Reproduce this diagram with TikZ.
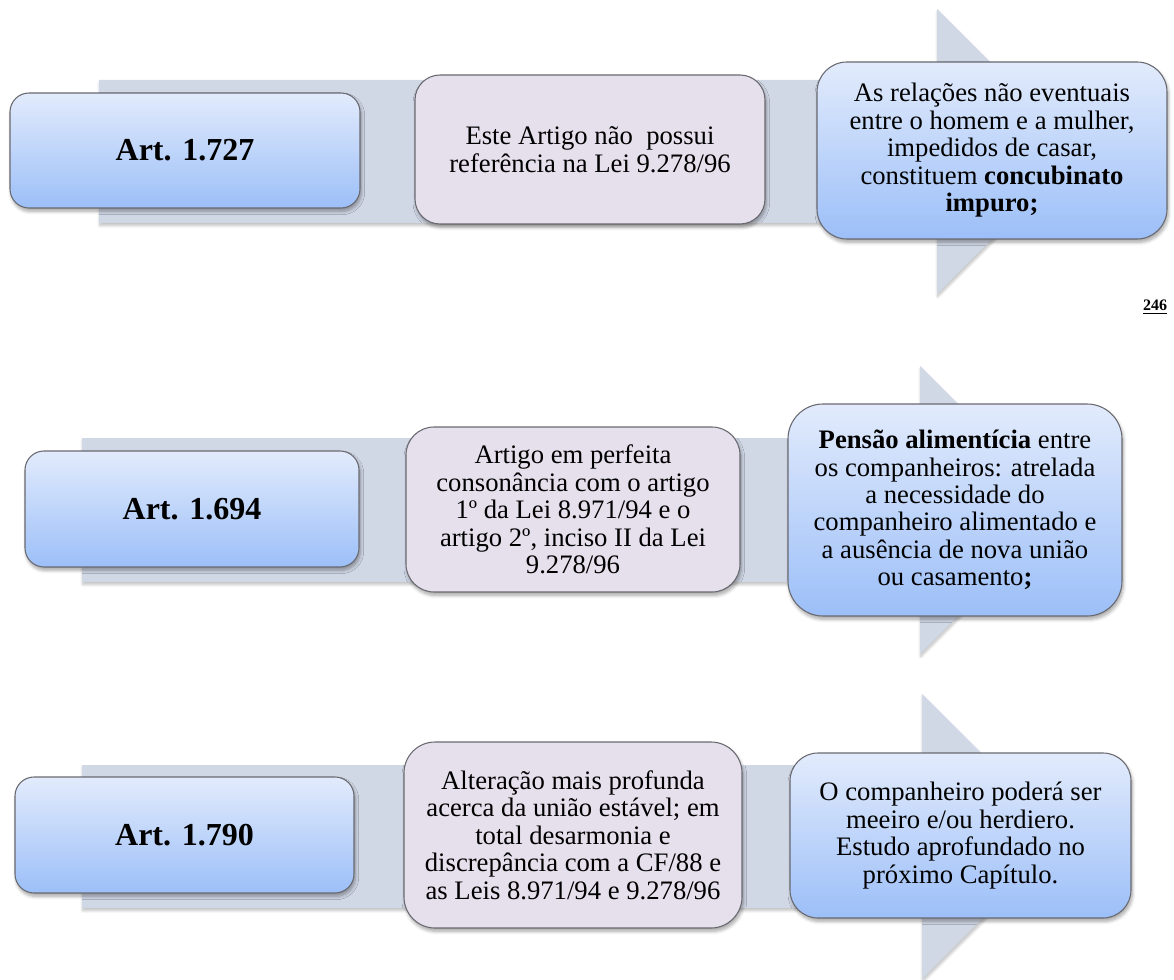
\documentclass[tikz,border=0pt]{standalone}
\usepackage{fontspec}
\setmainfont{Liberation Serif}
\usetikzlibrary{shadows.blur}

\definecolor{bandgray}{RGB}{208,215,229}
\definecolor{boxtop}{RGB}{226,235,252}
\definecolor{boxbot}{RGB}{156,191,248}
\definecolor{midfill}{RGB}{229,224,236}
\definecolor{edgegray}{RGB}{105,105,112}

\tikzset{
  band/.style={fill=bandgray,
    blur shadow={shadow xshift=0.5pt, shadow yshift=-2pt, shadow blur radius=2pt,
                 shadow blur steps=6, shadow opacity=25}},
  boxbase/.style={rectangle, draw=edgegray, line width=0.8pt, inner sep=0pt,
    align=center,
    blur shadow={shadow xshift=1pt, shadow yshift=-2.5pt, shadow blur radius=2.5pt,
                 shadow blur steps=6, shadow opacity=35}},
  dims/.style n args={3}{minimum width={#1*0.75pt}, minimum height={#2*0.75pt},
    rounded corners={#3*0.75pt}},
  artbox/.style={boxbase, top color=boxtop, bottom color=boxbot,
    font=\bfseries\fontsize{24}{28}\selectfont},
  notebox/.style={boxbase, fill=midfill, font=\fontsize{20}{20.6}\selectfont},
  infobox/.style={boxbase, top color=boxtop, bottom color=boxbot,
    font=\fontsize{20}{20.6}\selectfont},
}

\begin{document}
\begin{tikzpicture}[x=0.75pt, y=-0.75pt]
\useasboundingbox (0,0) rectangle (1174,980);

% flow arrows behind each row
\fill[band] (99,80) -- (937,80) -- (937,9) -- (1080,151.5) -- (937,294)
  -- (937,223) -- (99,223) -- cycle;
\fill[band] (82,438) -- (920,438) -- (920,366) -- (1064,510) -- (920,654)
  -- (920,582) -- (82,582) -- cycle;
\fill[band] (82,765) -- (922,765) -- (922,694) -- (1065,836.5) -- (922,979)
  -- (922,908) -- (82,908) -- cycle;

% row 1
\node[artbox, dims={350}{115}{19}] (r1a) at (185,150.5) {Art. 1.727};
\node[notebox, dims={350}{149}{25}] (r1b) at (590,149.5)
  {Este Artigo não\ \ possui\\referência na Lei 9.278/96};
\node[infobox, dims={350}{177}{30}] (r1c) at (992,150.5)
  {As relações não eventuais\\entre o homem e a mulher,\\impedidos de casar,\\
   constituem \textbf{concubinato}\\\textbf{impuro;}};

\node[font=\bfseries\fontsize{12}{14}\selectfont] (pg) at (1155,307) {\underline{246}};

% row 2
\node[artbox, dims={334}{116}{19}] (r2a) at (192,509) {Art. 1.694};
\node[notebox, dims={334}{165}{28}] (r2b) at (573,509.5)
  {Artigo em perfeita\\consonância com o artigo\\1º da Lei 8.971/94 e o\\
   artigo 2º, inciso II da Lei\\9.278/96};
\node[infobox, dims={334}{212}{35}] (r2c) at (955,510)
  {\textbf{Pensão alimentícia} entre\\os companheiros: atrelada\\a necessidade do\\
   companheiro alimentado e\\a ausência de nova união\\ou casamento\textbf{;}};

% row 3
\node[artbox, dims={339}{116}{19}] (r3a) at (184.5,835) {Art. 1.790};
\node[notebox, dims={338}{186}{31}] (r3b) at (573,835)
  {Alteração mais profunda\\acerca da união estável; em\\total desarmonia e\\
   discrepância com a CF/88 e\\as Leis 8.971/94 e 9.278/96};
\node[infobox, dims={341}{165}{28}] (r3c) at (960.5,835.5)
  {O companheiro poderá ser\\meeiro e/ou herdiero.\\Estudo aprofundado no\\
   próximo Capítulo.};
\end{tikzpicture}
\end{document}
